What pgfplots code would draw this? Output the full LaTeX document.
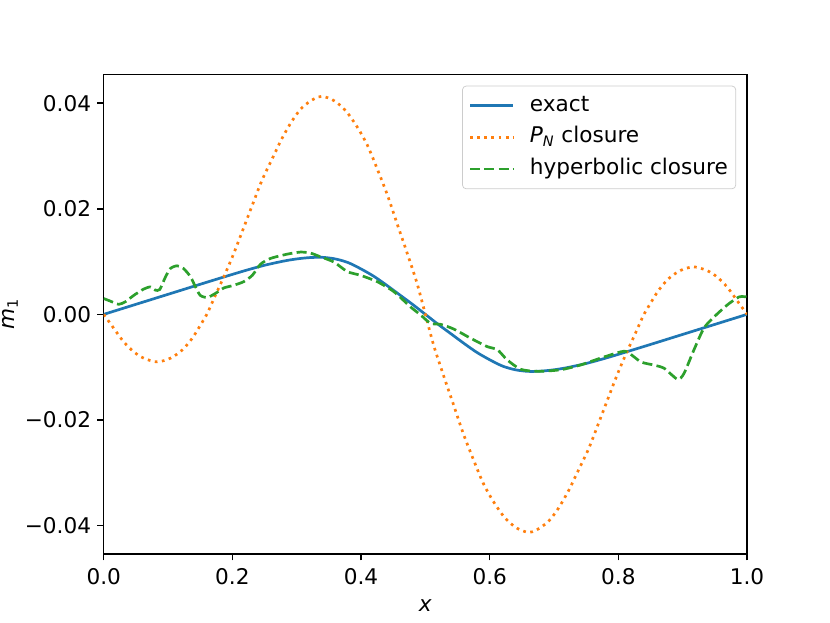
\documentclass[border=0pt]{standalone}
\usepackage{fontspec}
\setmainfont{DejaVu Sans}
\usepackage{pgfplots}
\pgfplotsset{compat=1.18}
\definecolor{c0}{HTML}{1F77B4}
\definecolor{c1}{HTML}{FF7F0E}
\definecolor{c2}{HTML}{2CA02C}
\begin{document}
\begin{tikzpicture}
\begin{axis}[
  at={(0,0)}, anchor=south west, scale only axis,
  width=357.12pt, height=266.112pt,
  xmin=0, xmax=1, ymin=-0.0454, ymax=0.0454,
  scaled y ticks=false, scaled x ticks=false,
  xtick={0,0.2,0.4,0.6,0.8,1}, xticklabels={0.0,0.2,0.4,0.6,0.8,1.0},
  ytick={-0.04,-0.02,0,0.02,0.04}, yticklabels={−0.04,−0.02,0.00,0.02,0.04},
  tick align=outside, tick pos=left, major tick length=3.5pt,
  every tick/.style={black, line width=0.8pt},
  axis line style={line width=0.8pt},
  ticklabel style={font=\fontsize{12}{14}\selectfont},
  xticklabel style={yshift=-1pt},
  xlabel={\textit{x}}, ylabel={\textit{m}\textsubscript{1}},
  label style={font=\fontsize{12}{14}\selectfont},
  xlabel style={yshift=-1.5pt},
  ylabel style={yshift=-3pt},
  legend cell align=left,
  legend style={at={(0.983,0.977)}, anchor=north east, draw=black!20, rounded corners=2pt,
    fill=white, fill opacity=0.8, text opacity=1, font=\fontsize{12}{14}\selectfont,
    inner xsep=3.4pt, inner ysep=3.9pt, row sep=3.6pt,
    nodes={inner sep=1pt, text height=9pt, text depth=3pt}},
  legend image code/.code={\draw[#1] (0pt,0pt) -- (24pt,0pt);},
  /tikz/every odd column/.append style={column sep=7.5pt},
]
\addplot[c0, line width=1.5pt, smooth, tension=0.5] coordinates {
(0,0) (0.05,0.0019) (0.1,0.0038) (0.15,0.0057) (0.19,0.0072) (0.22,0.0083) (0.25,0.0093)
(0.28,0.0101) (0.30,0.0105) (0.32,0.01075) (0.34,0.0108) (0.36,0.0105) (0.38,0.0098)
(0.40,0.0086) (0.42,0.0072) (0.44,0.0055) (0.46,0.0037) (0.48,0.0019) (0.5,0)
(0.52,-0.0019) (0.54,-0.0037) (0.56,-0.0055) (0.58,-0.0072) (0.60,-0.0086) (0.62,-0.0098)
(0.64,-0.0105) (0.66,-0.0108) (0.68,-0.01075) (0.70,-0.0105) (0.72,-0.0101) (0.75,-0.0093)
(0.78,-0.0083) (0.81,-0.0072) (0.85,-0.0057) (0.90,-0.0038) (0.95,-0.0019) (1.0,0)
};
\addlegendentry{exact}
\addplot[c1, line width=1.5pt, dash pattern=on 1.5pt off 2.475pt, smooth, tension=0.5] coordinates {
(0,0) (0.0156,-0.00265) (0.031,-0.0052) (0.0467,-0.0071) (0.0622,-0.0083) (0.083,-0.0090)
(0.1037,-0.0083) (0.122,-0.00675) (0.1375,-0.00454) (0.150,-0.0021) (0.161,0.0002)
(0.1737,0.00365) (0.189,0.00775) (0.202,0.0115) (0.215,0.0156) (0.231,0.0207) (0.246,0.0254)
(0.262,0.0295) (0.277,0.0333) (0.293,0.0367) (0.3086,0.0392) (0.3266,0.0408) (0.3397,0.0413)
(0.3577,0.0405) (0.376,0.0386) (0.394,0.0355) (0.41,0.0320) (0.425,0.0276) (0.441,0.0226)
(0.456,0.0172) (0.472,0.0115) (0.487,0.0059) (0.5,0)
(0.513,-0.0059) (0.528,-0.0115) (0.544,-0.0172) (0.559,-0.0226) (0.575,-0.0276) (0.59,-0.0320)
(0.606,-0.0355) (0.624,-0.0386) (0.6423,-0.0405) (0.6603,-0.0413) (0.6734,-0.0408)
(0.6914,-0.0392) (0.707,-0.0367) (0.723,-0.0333) (0.738,-0.0295) (0.754,-0.0254)
(0.769,-0.0207) (0.785,-0.0156) (0.798,-0.0115) (0.811,-0.00775) (0.8263,-0.00365)
(0.839,-0.0002) (0.850,0.0021) (0.8625,0.00454) (0.878,0.00675) (0.8963,0.0083) (0.917,0.0090)
(0.9378,0.0083) (0.9533,0.0071) (0.969,0.0052) (0.9844,0.00265) (1.0,0)
};
\addlegendentry{\textit{P}\textsubscript{\textit{N}} closure}
\addplot[c2, line width=1.5pt, dash pattern=on 5.55pt off 2.4pt, smooth, tension=0.4] coordinates {
(0,0.0030) (0.0104,0.0025) (0.0233,0.0019) (0.0337,0.0024) (0.0467,0.0036) (0.0622,0.0048)
(0.0726,0.0052) (0.080,0.0046) (0.087,0.0047) (0.096,0.0071) (0.1037,0.0087) (0.114,0.0092)
(0.124,0.0087) (0.135,0.0071) (0.1426,0.0052) (0.150,0.0036) (0.161,0.0032) (0.174,0.0040)
(0.1866,0.0050) (0.202,0.0055) (0.2177,0.0062) (0.231,0.0074) (0.2437,0.0095) (0.2593,0.0106)
(0.285,0.0114) (0.306,0.0118) (0.3215,0.0116) (0.337,0.0109) (0.358,0.0099) (0.3786,0.0081)
(0.399,0.0074) (0.425,0.0062) (0.451,0.0043) (0.477,0.0014) (0.4925,-0.0001) (0.508,-0.0017)
(0.524,-0.0019) (0.5445,-0.0028) (0.570,-0.0045) (0.596,-0.0061) (0.612,-0.0067)
(0.627,-0.0086) (0.648,-0.0104) (0.674,-0.0108) (0.710,-0.0105) (0.741,-0.0096)
(0.772,-0.0083) (0.8036,-0.0071) (0.814,-0.0071) (0.835,-0.0090) (0.855,-0.0096)
(0.871,-0.0102) (0.892,-0.0123) (0.902,-0.0112) (0.9176,-0.0067) (0.933,-0.0026)
(0.9487,-0.0005) (0.9695,0.0018) (0.9876,0.0033) (1.0,0.0033)
};
\addlegendentry{hyperbolic closure}
\end{axis}
\pgfresetboundingbox
\path (-57.6pt,-38.016pt) rectangle (403.2pt,307.584pt);
\end{tikzpicture}
\end{document}
